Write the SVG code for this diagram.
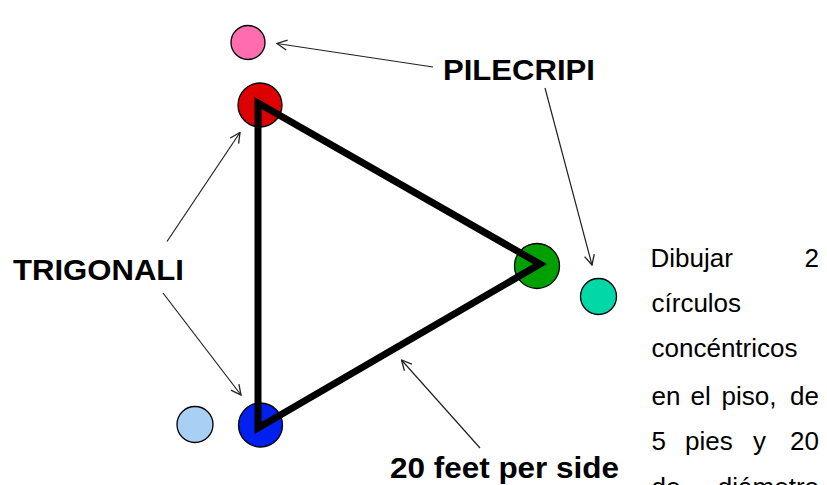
<svg xmlns="http://www.w3.org/2000/svg" width="827" height="485" viewBox="0 0 827 485">
<style>
.lbl{font-family:"Liberation Sans",Arial,sans-serif;font-weight:bold;font-size:30px;fill:#000}
.body{font-family:"Liberation Sans",Arial,sans-serif;font-size:26px;fill:#000}
.dot{stroke:#000;stroke-width:1.3}
.arr{fill:none;stroke:#222;stroke-width:1.2;marker-end:url(#open)}
</style>
<defs>
<marker id="open" viewBox="0 0 12 12" refX="11" refY="6" markerWidth="12" markerHeight="12" markerUnits="userSpaceOnUse" orient="auto">
<path d="M1,1 L11,6 L1,11" fill="none" stroke="#222" stroke-width="1.3"/>
</marker>
</defs>
<rect width="827" height="485" fill="#fff"/>
<g id="pink"><circle class="dot" cx="248" cy="42.5" r="17" fill="#ff6cb0"/></g>
<g id="red"><circle class="dot" cx="260" cy="105" r="22" fill="#dd0000"/></g>
<g id="green"><circle class="dot" cx="537" cy="266" r="22.5" fill="#00a000"/></g>
<g id="blue"><circle class="dot" cx="260.5" cy="425" r="22" fill="#0020f0"/></g>
<g id="lightblue"><circle class="dot" cx="195" cy="424.5" r="18" fill="#a8d0f4"/></g>
<g id="teal"><circle class="dot" cx="598.5" cy="296.5" r="18" fill="#00d8a8"/></g>
<g id="triangle"><polygon points="258,103 540,264 258,428" fill="none" stroke="#000" stroke-width="7" stroke-linejoin="miter"/></g>
<g id="connectors">
<line class="arr" x1="433" y1="67" x2="277" y2="43.5"/>
<line class="arr" x1="545" y1="88" x2="592" y2="265"/>
<line class="arr" x1="167" y1="241.5" x2="240" y2="132.5"/>
<line class="arr" x1="163" y1="293" x2="241" y2="395"/>
<line class="arr" x1="480" y1="448" x2="401.5" y2="360"/>
</g>
<g id="label-pilecripi"><text class="lbl" x="443" y="80" textLength="152" lengthAdjust="spacingAndGlyphs">PILECRIPI</text></g>
<g id="label-trigonali"><text class="lbl" x="13" y="280" textLength="171" lengthAdjust="spacingAndGlyphs">TRIGONALI</text></g>
<g id="label-feet"><text class="lbl" x="390" y="478" textLength="229" lengthAdjust="spacingAndGlyphs">20 feet per side</text></g>
<g id="paragraph" class="body">
<text x="650.5" y="267">Dibujar</text><text x="819" y="267" text-anchor="end">2</text>
<text x="651.5" y="312">círculos</text>
<text x="651.5" y="357">concéntricos</text>
<text x="651.5" y="404.5">en</text><text x="690.5" y="404.5">el</text><text x="721.5" y="404.5">piso,</text><text x="819" y="404.5" text-anchor="end">de</text>
<text x="651.5" y="450">5</text><text x="685" y="450">pies</text><text x="753" y="450">y</text><text x="819" y="450" text-anchor="end">20</text>
<text x="651.5" y="496">de</text><text x="819" y="496" text-anchor="end">diámetro</text>
</g>
</svg>
